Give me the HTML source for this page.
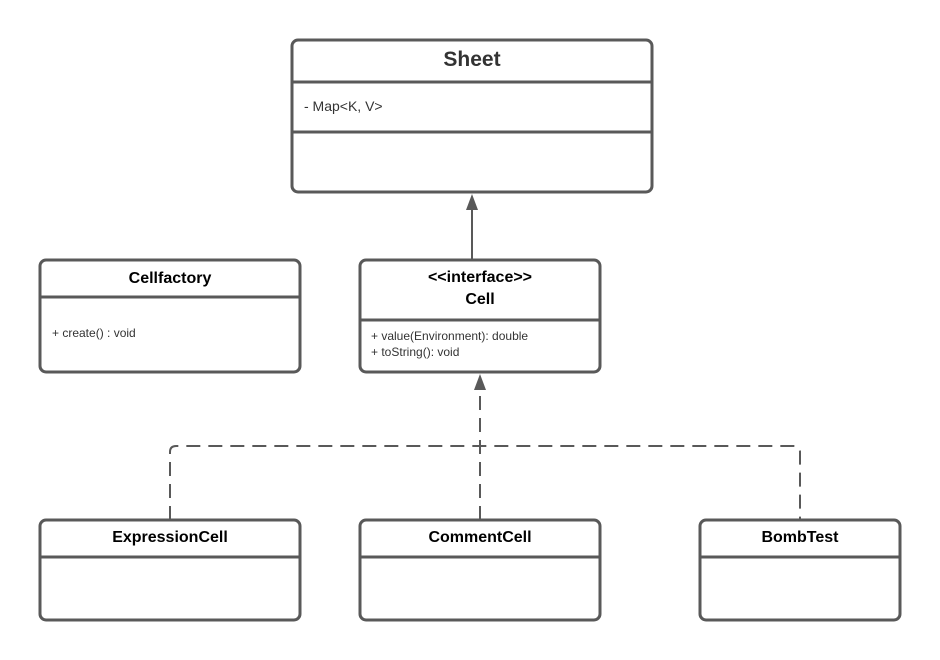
<!DOCTYPE html>
<html><head><style>body{margin:0;background:#fff}svg{display:block}text{font-family:"Liberation Sans",Arial,sans-serif}</style></head><body>
<svg width="940" height="660" viewBox="0 0 940 660" xmlns="http://www.w3.org/2000/svg">
<g fill="#fff" stroke="#595959" stroke-width="3">
<rect x="292" y="40" width="360" height="152" rx="6"/>
<line x1="292" y1="82" x2="652" y2="82"/><line x1="292" y1="132" x2="652" y2="132"/>
<rect x="40" y="260" width="260" height="112" rx="6"/>
<line x1="40" y1="297" x2="300" y2="297"/>
<rect x="360" y="260" width="240" height="112" rx="6"/>
<line x1="360" y1="320" x2="600" y2="320"/>
<rect x="40" y="520" width="260" height="100" rx="6"/>
<line x1="40" y1="557" x2="300" y2="557"/>
<rect x="360" y="520" width="240" height="100" rx="6"/>
<line x1="360" y1="557" x2="600" y2="557"/>
<rect x="700" y="520" width="200" height="100" rx="6"/>
<line x1="700" y1="557" x2="900" y2="557"/>
</g>
<g stroke="#595959" stroke-width="2" fill="none">
<line x1="472" y1="260" x2="472" y2="208"/>
<path d="M170 520 V452 Q170 446 176 446 H794 Q800 446 800 452 V520" stroke-dasharray="14 8"/>
<path d="M480 520 V390" stroke-dasharray="14 8"/>
</g>
<g fill="#595959"><path d="M472 194 L466 210 L478 210Z"/><path d="M480 374 L474 390 L486 390Z"/></g>
<g fill="#333" text-anchor="middle" font-weight="bold">
<text x="472" y="66" font-size="21">Sheet</text>
<text x="170" y="283" font-size="16" fill="#000">Cellfactory</text>
<text x="480" y="282" font-size="16" fill="#000">&lt;&lt;interface&gt;&gt;</text>
<text x="480" y="304" font-size="16" fill="#000">Cell</text>
<text x="170" y="542" font-size="16" fill="#000">ExpressionCell</text>
<text x="480" y="542" font-size="16" fill="#000">CommentCell</text>
<text x="800" y="542" font-size="16" fill="#000">BombTest</text>
</g>
<g fill="#333">
<text x="304" y="111" font-size="14">- Map&lt;K, V&gt;</text>
<text x="52" y="337" font-size="12">+ create() :  void</text>
<text x="371" y="340" font-size="12">+ value(Environment): double</text>
<text x="371" y="356" font-size="12">+ toString(): void</text>
</g>
</svg>
</body></html>
